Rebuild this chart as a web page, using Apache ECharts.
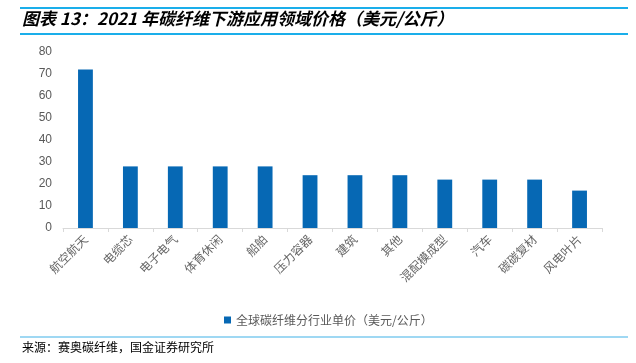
<!DOCTYPE html>
<html><head><meta charset="utf-8">
<script src="https://cdn.jsdelivr.net/npm/echarts@6/dist/echarts.min.js"></script>
<style>html,body{margin:0;padding:0;background:#fff}#c{width:636px;height:363px}</style>
</head><body><div id="c"></div>
<script>
const categories = ['航空航天','电缆芯','电子电气','体育休闲','船舶','压力容器','建筑','其他','混配模成型','汽车','碳碳复材','风电叶片'];
const prices = [72, 28, 28, 28, 28, 24, 24, 24, 22, 22, 22, 17];
const yTicks = [0, 80, 10];
const seriesName = '全球碳纤维分行业单价（美元/公斤）';
const titleText = '图表 13：2021 年碳纤维下游应用领域价格（美元/公斤）';
const sourceText = '来源：赛奥碳纤维，国金证券研究所';

const chart = echarts.init(document.getElementById('c'), null, {renderer:'canvas'});
chart.setOption({
  animation: false,
  textStyle: {fontFamily: '"Noto Sans CJK SC", sans-serif'},
  grid: {left: 63, right: 34, top: 52, bottom: 135},
  legend: {
    data: [seriesName], left: 219, top: 309, itemWidth: 7, itemHeight: 7, itemGap: 3,
    icon: 'rect',
    textStyle: {color: '#595959', fontSize: 12, fontFamily: '"Noto Sans CJK SC", sans-serif'}
  },
  xAxis: {
    type: 'category', data: categories,
    axisLine: {lineStyle: {color: '#D9D9D9'}},
    axisTick: {show: true, alignWithLabel: false, length: 4, lineStyle: {color: '#D9D9D9'}},
    axisLabel: {rotate: 45, color: '#666666', fontSize: 12, interval: 0, margin: 9}
  },
  yAxis: {
    type: 'value', min: yTicks[0], max: yTicks[1], interval: yTicks[2],
    axisLine: {show: false}, axisTick: {show: false}, splitLine: {show: false},
    axisLabel: {color: '#595959', fontSize: 12, margin: 11, fontFamily: 'Arial, "Liberation Sans", sans-serif'}
  },
  series: [{
    name: seriesName, type: 'bar', data: prices, barWidth: '33%',
    itemStyle: {color: '#0668B4'}
  }],
  graphic: [
    {type: 'line', shape: {x1: 20, y1: 8, x2: 628, y2: 8}, style: {stroke: '#1AAEEA', lineWidth: 2}},
    {type: 'line', shape: {x1: 20, y1: 34, x2: 628, y2: 34}, style: {stroke: '#1AAEEA', lineWidth: 2}},
    {type: 'text', left: 22, top: 10, style: {text: titleText, fill: '#000', font: 'italic bold 17px "Noto Sans CJK SC", sans-serif'}},
    {type: 'line', shape: {x1: 20, y1: 337, x2: 628, y2: 337}, style: {stroke: '#7FCBEF', lineWidth: 1.5}},
    {type: 'text', left: 22, top: 341, style: {text: sourceText, fill: '#000', font: '12px "Noto Sans CJK SC", sans-serif'}}
  ]
});
</script></body></html>
